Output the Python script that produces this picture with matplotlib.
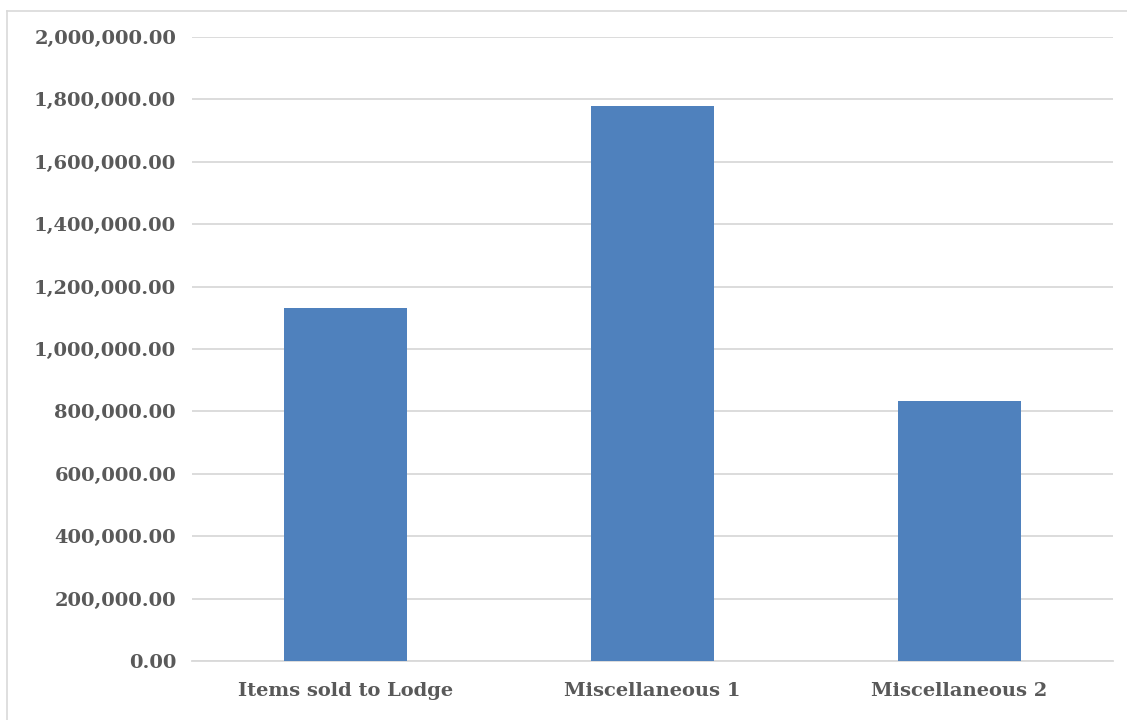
import matplotlib.pyplot as plt
from matplotlib.lines import Line2D
from matplotlib.ticker import FuncFormatter, MultipleLocator

categories = ["Items sold to Lodge", "Miscellaneous 1", "Miscellaneous 2"]
amounts = [1130000, 1780000, 833000]

bar_color = "#4f81bd"
text_color = "#595959"
grid_color = "#d9d9d9"
font = {"family": "DejaVu Serif", "weight": "bold", "size": 14}

fig = plt.figure(figsize=(11.27, 7.2), dpi=100)
ax = fig.add_axes([0.1704, 0.0819, 0.8172, 0.8667])

ax.bar(categories, amounts, width=0.40, color=bar_color, zorder=3)

ax.set_ylim(0, 2000000)
ax.set_xlim(-0.5, 2.5)
ax.yaxis.set_major_locator(MultipleLocator(200000))
ax.yaxis.set_major_formatter(FuncFormatter(lambda v, _: f"{v:,.2f}"))
ax.grid(axis="y", color=grid_color, linewidth=1.3, zorder=0)
ax.set_axisbelow(True)

for side in ["top", "right", "left"]:
    ax.spines[side].set_visible(False)
ax.spines["bottom"].set_color(grid_color)
ax.spines["bottom"].set_linewidth(1.3)

ax.tick_params(axis="both", length=0, colors=text_color)
ax.tick_params(axis="y", pad=11.5)
ax.tick_params(axis="x", pad=15)
for lbl in ax.get_xticklabels() + ax.get_yticklabels():
    lbl.set_fontproperties(font)
    lbl.set_color(text_color)

# light outer frame of the chart area
fig.add_artist(Line2D([7 / 1127, 1], [1 - 11 / 720, 1 - 11 / 720],
                      color=grid_color, linewidth=1.2))
fig.add_artist(Line2D([7 / 1127, 7 / 1127], [0, 1 - 11 / 720],
                      color=grid_color, linewidth=1.2))

fig.savefig("out.png", dpi=100, facecolor="white")
